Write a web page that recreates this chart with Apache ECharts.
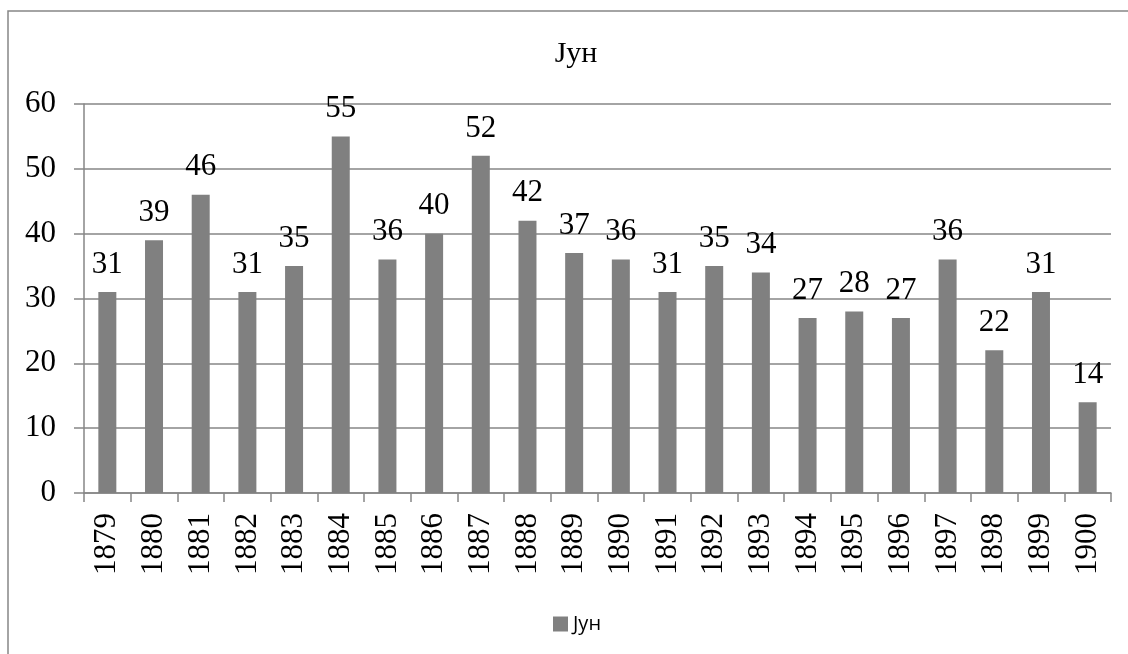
<!DOCTYPE html>
<html>
<head>
<meta charset="utf-8">
<script src="https://cdn.jsdelivr.net/npm/echarts@6/dist/echarts.min.js"></script>
<style>
  html, body { margin: 0; padding: 0; background: #fff; }
  #chart { width: 1128px; height: 654px; }
</style>
</head>
<body>
<div id="chart"></div>
<script>
const years = ["1879", "1880", "1881", "1882", "1883", "1884", "1885", "1886", "1887", "1888", "1889",
  "1890", "1891", "1892", "1893", "1894", "1895", "1896", "1897", "1898", "1899", "1900"]
const june = [31, 39, 46, 31, 35, 55, 36, 40, 52, 42, 37, 36, 31, 35, 34, 27, 28, 27, 36, 22, 31, 14]
const seriesName = "Јун"

const serif = "'Liberation Serif', 'Times New Roman', serif"
const gray = "#868686"

const chart = echarts.init(document.getElementById("chart"))
chart.setOption({
  animation: false,
  graphic: [
    {
      type: "rect",
      shape: { x: 8, y: 11, width: 1200, height: 700 },
      style: { fill: "none", stroke: gray, lineWidth: 1.5 },
    },
  ],
  title: {
    text: seriesName,
    left: 571,
    textAlign: "center",
    top: 34,
    textStyle: { fontFamily: serif, fontSize: 30, fontWeight: "normal", color: "#000" },
  },
  legend: {
    data: [seriesName],
    left: 548,
    top: 609,
    itemWidth: 15,
    itemHeight: 15,
    itemGap: 6,
    icon: "rect",
    textStyle: { fontFamily: "'Open Sans', 'Liberation Sans', sans-serif", fontSize: 20, color: "#000" },
  },
  grid: { left: 84, right: 17, top: 104, bottom: 161, containLabel: false },
  xAxis: {
    type: "category",
    data: years,
    axisLine: { lineStyle: { color: gray, width: 1.5 } },
    axisTick: { show: true, length: 9, lineStyle: { color: gray, width: 1.5 } },
    axisLabel: { rotate: 90, margin: 20, fontFamily: serif, fontSize: 31, color: "#000" },
  },
  yAxis: {
    type: "value",
    min: 0,
    max: 60,
    interval: 10,
    axisLine: { show: true, lineStyle: { color: gray, width: 1.5 } },
    axisTick: { show: true, length: 10, lineStyle: { color: gray, width: 1.5 } },
    axisLabel: { margin: 28, fontFamily: serif, fontSize: 31, color: "#000" },
    splitLine: { lineStyle: { color: gray, width: 1.5 } },
  },
  series: [
    {
      type: "bar",
      name: seriesName,
      data: june,
      barWidth: 18,
      itemStyle: { color: "#808080" },
      label: {
        show: true,
        position: "top",
        distance: 12,
        fontFamily: serif,
        fontSize: 31,
        color: "#000",
      },
    },
  ],
})
</script>
</body>
</html>
